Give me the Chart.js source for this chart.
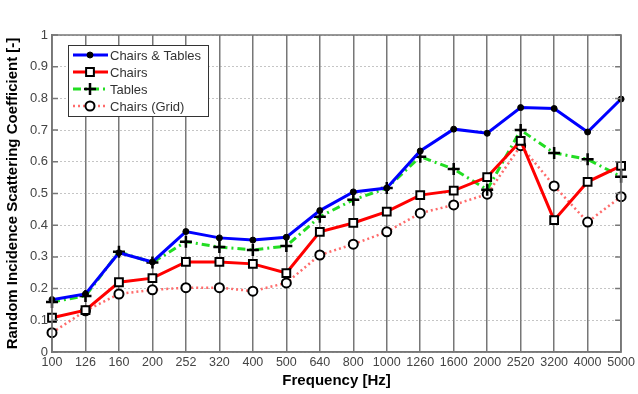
<!DOCTYPE html>
<html>
<head>
<meta charset="utf-8">
<script src="https://cdn.jsdelivr.net/npm/chart.js@4"></script>
<style>
  html,body{margin:0;padding:0;background:#fff;}
  #wrap{width:638px;height:394px;position:relative;}
</style>
</head>
<body>
<div id="wrap"><canvas id="ch"></canvas></div>
<script>
// data
const freqs = ['100','126','160','200','252','320','400','500','640','800','1000','1260','1600','2000','2520','3200','4000','5000'];
const chairsTables = [0.165,0.183,0.313,0.284,0.380,0.360,0.353,0.362,0.446,0.505,0.517,0.634,0.703,0.690,0.771,0.768,0.694,0.798];
const chairs       = [0.108,0.132,0.220,0.233,0.284,0.284,0.278,0.249,0.379,0.407,0.443,0.495,0.509,0.552,0.666,0.416,0.537,0.587];
const tables       = [0.158,0.177,0.316,0.282,0.348,0.331,0.322,0.334,0.427,0.480,0.517,0.616,0.577,0.512,0.700,0.628,0.608,0.553];
const chairsGrid   = [0.061,0.130,0.183,0.196,0.203,0.203,0.192,0.218,0.306,0.340,0.379,0.438,0.464,0.498,0.651,0.524,0.410,0.490];
const yTicks = [0,0.1,0.2,0.3,0.4,0.5,0.6,0.7,0.8,0.9,1];

const FONT = '"Liberation Sans", Arial, sans-serif';

// box round the plot + legend drawn like the original
const framePlugin = {
  id:'frame',
  afterDraw(chart){
    const {ctx, chartArea:a} = chart;
    ctx.save();
    ctx.strokeStyle = '#777';
    ctx.lineWidth = 1.5;
    ctx.strokeRect(a.left, a.top, a.right-a.left, a.bottom-a.top);
    // little inside ticks on both side edges
    chart.scales.y.ticks.forEach(t=>{
      const y = chart.scales.y.getPixelForValue(t.value);
      ctx.beginPath();
      ctx.moveTo(a.right-6, y); ctx.lineTo(a.right, y);
      ctx.moveTo(a.left, y); ctx.lineTo(a.left+6, y);
      ctx.stroke();
    });

    // legend
    const bx = 68, by = 45, bw = 140, bh = 71;
    ctx.fillStyle = '#fff';
    ctx.fillRect(bx, by, bw, bh);
    ctx.strokeStyle = '#333';
    ctx.lineWidth = 1;
    ctx.strokeRect(bx+0.5, by+0.5, bw, bh);
    ctx.font = '13px ' + FONT;
    ctx.textBaseline = 'middle';
    chart.data.datasets.forEach((ds, i)=>{
      const y = by + 10 + i*17;
      ctx.save();
      ctx.strokeStyle = ds.borderColor;
      ctx.lineWidth = ds.borderWidth;
      ctx.setLineDash(ds.borderDash || []);
      ctx.beginPath(); ctx.moveTo(bx+5, y); ctx.lineTo(bx+40, y); ctx.stroke();
      ctx.restore();
      ctx.save();
      ctx.fillStyle = ds.pointBackgroundColor;
      ctx.strokeStyle = ds.pointBorderColor;
      ctx.lineWidth = ds.pointBorderWidth;
      Chart.helpers.drawPoint(ctx, {pointStyle: ds.pointStyle, radius: ds.pointRadius, borderWidth: ds.pointBorderWidth, rotation: 0}, bx+22, y);
      ctx.restore();
      ctx.fillStyle = '#333';
      ctx.fillText(ds.label, bx+42, y+1);
    });
    ctx.restore();
  }
};

new Chart(document.getElementById('ch'), {
  type:'line',
  data:{
    labels: freqs,
    datasets:[
      {label:'Chairs & Tables', data:chairsTables, borderColor:'#0000ff', borderWidth:3,
       pointStyle:'circle', pointRadius:3, pointBackgroundColor:'#000', pointBorderColor:'#000', pointBorderWidth:1},
      {label:'Chairs', data:chairs, borderColor:'#ff0000', borderWidth:3,
       pointStyle:'rect', pointRadius:5.5, pointBackgroundColor:'#fff', pointBorderColor:'#000', pointBorderWidth:2},
      {label:'Tables', data:tables, borderColor:'#22dd22', borderWidth:3, borderDash:[8,4,2,4],
       pointStyle:'cross', pointRadius:6, pointBackgroundColor:'#000', pointBorderColor:'#000', pointBorderWidth:2.5},
      {label:'Chairs (Grid)', data:chairsGrid, borderColor:'#ff6b6b', borderWidth:2.5, borderDash:[2,3],
       pointStyle:'circle', pointRadius:4.5, pointBackgroundColor:'#fff', pointBorderColor:'#000', pointBorderWidth:2}
    ]
  },
  options:{
    responsive:true, maintainAspectRatio:false, animation:false,
    layout:{padding:{top:35, right:13, left:0, bottom:0}},
    plugins:{legend:{display:false}, tooltip:{enabled:false}},
    elements:{line:{tension:0}},
    scales:{
      x:{
        offset:false,
        grid:{color:'#777', lineWidth:1.5, drawTicks:false},
        border:{color:'#777', width:1.5},
        ticks:{color:'#444', font:{family:FONT, size:12.5}, autoSkip:false, maxRotation:0, padding:3},
        title:{display:true, text:'Frequency [Hz]', color:'#000', font:{family:FONT, size:15, weight:'bold'}, padding:{top:2}},
        afterFit(s){ s.height = 42; }
      },
      y:{
        min:0, max:1,
        afterBuildTicks(s){ s.ticks = yTicks.map(v=>({value:v})); },
        grid:{color:'#8a8a8a', lineWidth:1, drawTicks:false},
        border:{color:'#777', width:1.5, dash:[1,3]},
        ticks:{color:'#444', font:{family:FONT, size:13}, padding:4, callback:v=>String(v)},
        title:{display:true, text:'Random Incidence Scattering Coefficient [-]', color:'#000', font:{family:FONT, size:15, weight:'bold'}, padding:{bottom:2}},
        afterFit(s){ s.width = 52; }
      }
    }
  },
  plugins:[framePlugin]
});
</script>
</body>
</html>
